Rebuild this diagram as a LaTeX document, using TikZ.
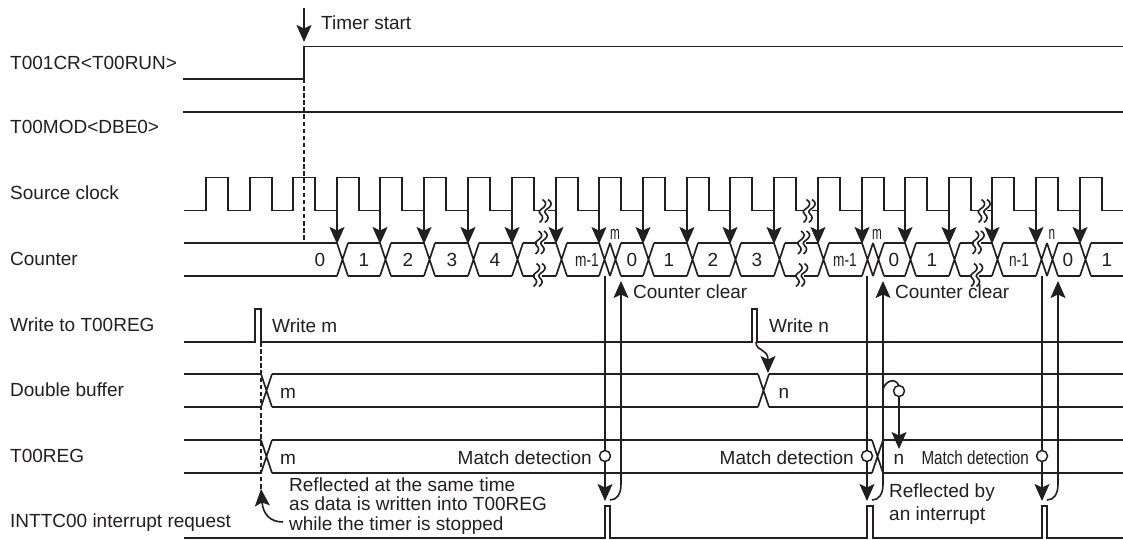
\documentclass[tikz,border=0pt]{standalone}
\usepackage{fontspec}
\setmainfont{Liberation Sans}
\usetikzlibrary{arrows.meta}
\definecolor{ink}{HTML}{231F20}
\tikzset{
  wire/.style={draw=ink,line width=1.7pt,line join=miter},
  thin wire/.style={draw=ink,line width=1.6pt},
  tick/.style={thin wire,-{Stealth[length=17pt,width=15pt,inset=3.5pt]}},
  dashline/.style={draw=ink,line width=1.3pt,dash pattern=on 4.5pt off 2.6pt},
  txt/.style={anchor=base west,inner sep=0pt,text=ink,font=\fontsize{19}{19.5}\selectfont},
  ctr/.style={anchor=base,inner sep=0pt,text=ink,font=\fontsize{19}{19.5}\selectfont},
  dot/.style={circle,draw=ink,line width=1.5pt,fill=white,minimum size=11pt,inner sep=0pt},
}
\newcommand{\narrow}[2]{\scalebox{#1}[1]{#2}}
\newcommand{\wavy}[2]{%
  \fill[white] (#1-1,#2-3) rectangle (#1+6,#2+3);
  \foreach \dx in {0,5.5}{
    \draw[draw=ink,line width=1.6pt] (#1+\dx+1,#2-11.5) .. controls (#1+\dx+5,#2-9) and (#1+\dx+5,#2-6) .. (#1+\dx+2,#2-3.5) .. controls (#1+\dx-1,#2-1) and (#1+\dx-4,#2) .. (#1+\dx-1,#2+3) .. controls (#1+\dx+2,#2+6) and (#1+\dx+2,#2+8) .. (#1+\dx-2,#2+11.5);
  }}
\newcommand{\crossing}[3]{\draw[wire] (#1,#2)--(#1+11,#3) (#1,#3)--(#1+11,#2);}
\begin{document}
\begin{tikzpicture}[x=1pt,y=-1pt]
\useasboundingbox (0,0) rectangle (1123,540);
\fill[white] (0,0) rectangle (1123,540);
% labels left
\node[txt] (l1) at (10,69.5) {T001CR<T00RUN>};
\node[txt] (l2) at (10,134) {T00MOD<DBE0>};
\node[txt] (l3) at (10,199.5) {Source clock};
\node[txt] (l4) at (10,265) {Counter};
\node[txt] (l5) at (10,331) {Write to T00REG};
\node[txt] (l6) at (10,396) {Double buffer};
\node[txt] (l7) at (10,462) {T00REG};
\node[txt] (l8) at (10,527) {INTTC00 interrupt request};
% timer start
\coordinate (ts0) at (304,8);
\coordinate (ts1) at (304,42);
\draw[tick] (ts0) -- (ts1);
\node[txt] (tstart) at (321,30) {Timer start};
\draw[wire] (183,79)--(304,79)--(304,46.5)--(1123,46.5);
\draw[wire] (183,112)--(1123,112);
\draw[dashline] (304,79)--(304,243);
% clock
\draw[wire] (184,210.5)
 \foreach \r in {206,250,293,337,380,424,468,512,556,599,643,687,730,774,818,862,905,949,992,1036,1080}{
   -- (\r,210.5) -- (\r,177.5) -- (\r+22,177.5) -- (\r+22,210.5)
 } -- (1123,210.5);
\foreach \w in {541.5,805.5,980.5}{\wavy{\w}{211}}
% clock arrows
\foreach \r in {337,380,424,468,512,556,599,643,687,730,774,818,862,905,949,992,1036,1080}{
  \draw[tick] (\r,210.5) -- (\r,244);
}
% counter bus
\foreach \a/\b in {184/337,348/380,391/424,435/468,479/512,523/556,567/599,621/643,654/687,698/730,741/774,785/818,829/862,884/905,916/949,960/992,1003/1036,1058/1080,1091/1123}{
  \draw[wire] (\a,243)--(\b,243) (\a,276)--(\b,276);
}
\foreach \a in {337,380,424,468,512,556,599,610,643,687,730,774,818,862,873,905,949,992,1036,1047,1080}{
  \crossing{\a}{243}{276}
}
\wavy{537.5}{242.5}\wavy{535.5}{275}
\wavy{800}{242.5}\wavy{798}{275}
\wavy{974.5}{242.5}\wavy{973}{275}
% counter values
\foreach \n/\x/\t in {c0/320/0,c1/364/1,c2/408/2,c3/452/3,c4/495/4,c5/632/0,c6/669/1,c7/713/2,c8/757/3,c9/894/0,c10/932/1,c11/1068/0,c12/1107/1}{
  \node[ctr] (\n) at (\x,266.7) {\t};
}
\node[ctr] (cm1) at (587,266.7) {\narrow{0.72}{m-1}};
\node[ctr] (cm2) at (845,266.7) {\narrow{0.72}{m-1}};
\node[ctr] (cn1) at (1019,266.7) {\narrow{0.72}{n-1}};
\node[ctr] (mm1) at (615,239) {\narrow{0.62}{m}};
\node[ctr] (mm2) at (877,239) {\narrow{0.62}{m}};
\node[ctr] (mn) at (1052,239) {\narrow{0.62}{n}};
\node[txt] (cc1) at (633,298) {Counter clear};
\node[txt] (cc2) at (895,298) {Counter clear};
% write
\draw[wire] (184,342)--(255,342)--(255,309)--(261,309)--(261,342)--(752,342)--(752,309)--(757,309)--(757,342)--(1123,342);
\node[txt] (wm) at (272,332.7) {Write m};
\node[txt] (wn) at (769,332.7) {Write n};
% double buffer
\draw[wire] (184,374)--(261,374) (272,374)--(758,374) (769,374)--(1123,374);
\draw[wire] (184,407)--(261,407) (272,407)--(758,407) (769,407)--(1123,407);
\crossing{261}{374}{407}
\crossing{758}{374}{407}
\node[ctr] (db1) at (288,398) {m};
\node[ctr] (db2) at (784,398) {n};
% T00REG
\draw[wire] (184,440)--(261,440) (272,440)--(872,440) (883,440)--(1123,440);
\draw[wire] (184,473)--(261,473) (272,473)--(872,473) (883,473)--(1123,473);
\crossing{261}{440}{473}
\crossing{872}{440}{473}
\node[ctr] (r1) at (288,464) {m};
\node[ctr] (r2) at (899,464) {n};
\node[txt,anchor=base east] (md1) at (592,464) {Match detection};
\node[txt,anchor=base east] (md2) at (854,464) {Match detection};
\node[txt,anchor=base east] (md3) at (1029,464) {\narrow{0.8}{Match detection}};
% interrupt
\draw[wire] (184,538)--(605,538)--(605,506)--(610,506)--(610,538)--(867,538)--(867,506)--(873,506)--(873,538)--(1042,538)--(1042,506)--(1047,506)--(1047,538)--(1123,538);
% dashed
\coordinate (dq) at (261,489);
\draw[dashline] (261,342)--(dq);
\coordinate (dq2) at (283,522);
\draw[tick] (dq2) .. controls (270,522) and (263,514) .. (dq);
% verticals
\foreach \n/\x/\u/\s in {a/605/621/610,b/867/883/872,c/1042/1058/1047}{
  \coordinate (t\n) at (\x,276);
  \coordinate (h\n) at (\x,501);
  \draw[tick] (t\n)--(h\n);
  \node[dot] (o\n) at (\x,456) {};
  \coordinate (up\n) at (\u,281);
  \coordinate (cs\n) at (\s,500);
  \draw[tick] (cs\n) .. controls (\u-4,500) and (\u,494) .. (\u,484) -- (up\n);
}
% reflected
\node[txt] (ra) at (289,491) {Reflected at the same time};
\node[txt] (rb) at (289,510) {as data is written into T00REG};
\node[txt] (rc) at (289,530) {while the timer is stopped};
\node[txt] (rd) at (889,497) {Reflected by};
\node[txt] (re) at (889,520) {an interrupt};
% interrupt to T00REG
\coordinate (lp) at (883,390);
\draw[thin wire] (lp) .. controls (884,382) and (895,376) .. (899,386);
\coordinate (bt) at (899,449);
\node[dot] (od) at (899,391) {};
\draw[tick] (od) -- (bt);
% write n arrow
\coordinate (wq) at (756,342);
\coordinate (wr) at (768,373);
\draw[tick] (wq) .. controls (756,352) and (768,348) .. (wr);
\end{tikzpicture}
\end{document}
